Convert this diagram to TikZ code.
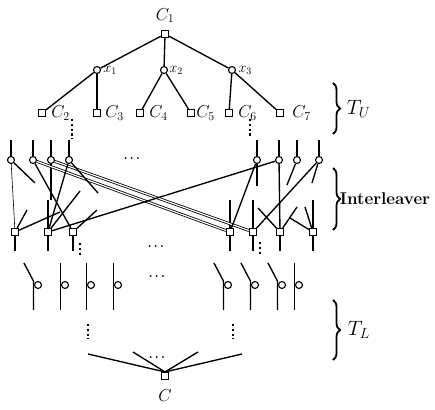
\documentclass[tikz,border=0pt]{standalone}
\usepackage{amsmath,amssymb}
\usepackage{tikz}
\usetikzlibrary{positioning,calc,decorations.pathreplacing}
\tikzset{
  chk/.style={draw,rectangle,fill=white,minimum size=7pt,inner sep=0pt,line width=1.1pt},
  var/.style={draw,circle,fill=white,minimum size=7pt,inner sep=0pt,line width=1.1pt},
  ed/.style={line width=1.35pt},
  fed/.style={line width=0.6pt},
  bnd/.style={line width=0.8pt,double,double distance=1.2pt},
  vd/.style={line width=2.4pt,dash pattern=on 2.2pt off 2.6pt},
  hd/.style={font=\boldmath\large},
  lbl/.style={inner sep=0pt,font=\LARGE},
  vlbl/.style={inner sep=0pt,font=\Large},
  brc/.style={decorate,decoration={brace,amplitude=7pt},line width=1.8pt},
}

\begin{document}
\begin{tikzpicture}[x=1pt,y=-1pt]
  \useasboundingbox (0,0) rectangle (435,409);
  % upper tree T_U
  \node[chk] (c1) at (165,34) {};
  \node[lbl,above=7pt of c1] {$C_1$};
  \node[var] (x1) at (97,70) {};
  \node[var] (x2) at (164,70) {};
  \node[var] (x3) at (232,70) {};
  \node[vlbl,right=2pt of x1] {$x_1$};
  \node[vlbl,right=1pt of x2] {$x_2$};
  \node[vlbl,right=2pt of x3] {$x_3$};
  \node[chk] (c2) at (42,113) {};
  \node[chk] (c3) at (97,113) {};
  \node[chk] (c4) at (140,113) {};
  \node[chk] (c5) at (191,113) {};
  \node[chk] (c6) at (229,113) {};
  \node[chk] (c7) at (280,113) {};
  \node[lbl,right=5pt of c2] {$C_2$};
  \node[lbl,right=4pt of c3] {$C_3$};
  \node[lbl,right=5pt of c4] {$C_4$};
  \node[lbl,right=1pt of c5] {$C_5$};
  \node[lbl,right=5pt of c6] {$C_6$};
  \node[lbl,right=8pt of c7] {$C_7$};
  \draw[ed] (c1) -- (x1);
  \draw[ed] (c1) -- (x2);
  \draw[ed] (c1) -- (x3);
  \draw[ed] (x1) -- (c2);
  \draw[ed] (x1) -- (c3);
  \draw[ed] (x2) -- (c4);
  \draw[ed] (x2) -- (c5);
  \draw[ed] (x3) -- (c6);
  \draw[ed] (x3) -- (c7);
  \draw[vd] (72,119) -- ++(0,20);
  \draw[vd] (250,119) -- ++(0,19);
  \draw[brc] (333,83) -- (333,134) node[midway,right=13pt,inner sep=0pt,font=\huge] {$T_U$};

  % interleaver
  \foreach \n/\xx in {1/11,2/33,3/51,4/69,5/257,6/279,7/297,8/319}
    \node[var] (t\n) at (\xx,160) {};
  \foreach \n/\xx in {1/15,2/48,3/73,4/230,5/253,6/280,7/313}
    \node[chk] (b\n) at (\xx,232) {};
  \node[hd] at (133,159) {$\cdots$};
  \foreach \n in {1,...,8}
    \draw[ed] (t\n.north) -- ++(0,-16);
  \foreach \n in {1,...,7}
    \draw[ed] (b\n.south) -- ++(0,15);
  \foreach \n in {2,4,5,7}
    \draw[ed] (b\n.north) -- ++(0,-28);
  \coordinate (s1) at (35,183);
  \coordinate (s2) at (51,200);
  \coordinate (s3) at (98,193);
  \coordinate (s4) at (27,210);
  \coordinate (s5) at (60,212);
  \coordinate (s6) at (80,191);
  \coordinate (s7) at (97,210);
  \coordinate (s8) at (257,186);
  \coordinate (s9) at (287,185);
  \coordinate (s10) at (312,183);
  \coordinate (s11) at (258,208);
  \coordinate (s12) at (297,207);
  \coordinate (s13) at (290,218);
  \coordinate (s14) at (305,207);
  \draw[fed] (t1) -- (b1);
  \draw[ed] (t1) -- (s1);
  \draw[ed] (t3) -- (s2);
  \draw[ed] (t2) -- (b3);
  \draw[bnd] (t2) -- (b4);
  \draw[bnd] (t3) -- (b5);
  \draw[ed] (t4) -- (b2);
  \draw[ed] (t4) -- (s3);
  \draw[ed] (b1) -- (s4);
  \draw[ed] (b1) -- (s5);
  \draw[ed] (b2) -- (t6);
  \draw[ed] (b2) -- (s6);
  \draw[ed] (b3) -- (s7);
  \draw[ed] (t5) -- (b4);
  \draw[ed] (t5) -- (s8);
  \draw[ed] (t6) -- (b6);
  \draw[ed] (t7) -- (s9);
  \draw[ed] (t8) -- (b5);
  \draw[ed] (t8) -- (s10);
  \draw[ed] (b6) -- (s11);
  \draw[ed] (b6) -- (s12);
  \draw[ed] (b7) -- (s13);
  \draw[ed] (b7) -- (s14);
  \draw[vd] (80,243) -- ++(0,14);
  \draw[vd] (260,242) -- ++(0,14);
  \node[hd] at (157,247) {$\cdots$};
  \draw[brc] (333,168) -- (333,230) node[midway,right=6pt,inner sep=0pt,font=\fontsize{17}{19}\selectfont\bfseries] {Interleaver};

  % lower tree T_L
  \foreach \n/\xx in {1/38,2/65,3/91,4/118,5/228,6/255,7/282,8/299}
    \node[var] (l\n) at (\xx,285) {};
  \foreach \n in {2,3,4,8}
    \draw[ed] ($(l\n.west)+(-0.5,-22)$) -- ++(0,47);
  \foreach \n in {1,5,6,7}
    \draw[ed] ($(l\n.west)+(-10,-22)$) -- ($(l\n.west)+(-0.5,-4)$) -- ++(0,29);
  \node[hd] at (158,277) {$\cdots$};
  \draw[vd] (88,324) -- ++(0,15);
  \draw[vd] (233,324) -- ++(0,15);
  \node[chk] (c) at (165,376) {};
  \node[lbl,below=9pt of c] {$C$};
  \coordinate (e1) at (88,354);
  \coordinate (e2) at (133,352);
  \coordinate (e3) at (198,352);
  \coordinate (e4) at (242,354);
  \foreach \e in {e1,e2,e3,e4}
    \draw[ed] (c.north) -- (\e);
  \node[hd] at (158,358) {$\cdots$};
  \draw[brc] (333,300) -- (333,360) node[midway,right=14pt,inner sep=0pt,font=\huge] {$T_L$};
\end{tikzpicture}
\end{document}
